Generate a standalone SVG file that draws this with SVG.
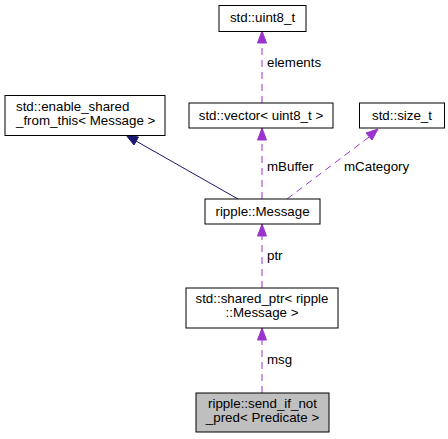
<svg xmlns="http://www.w3.org/2000/svg" width="448" height="439" viewBox="0 0 448 439">
<style>
.n{fill:#fff;stroke:#000;stroke-width:1}
.g{fill:#bfbfbf;stroke:#000;stroke-width:1}
text{font-family:"Liberation Sans",Arial,sans-serif;font-size:13.33px;fill:#000}
.c{text-anchor:middle}
.d{fill:none;stroke:#9a32cd;stroke-width:1;stroke-dasharray:7,5}
.s{fill:none;stroke:#191970;stroke-width:1}
.ap{fill:#9a32cd;stroke:#9a32cd}
.an{fill:#191970;stroke:#191970}
</style>
<rect width="448" height="439" fill="#fff"/>
<g id="connectors">
<path class="d" d="M262,103V42"/>
<polygon class="ap" points="257.5,43 262,31 266.5,43"/>
<text x="267" y="67">elements</text>
<path class="s" d="M238,199L136,141"/>
<polygon class="an" points="138.5,137 126,135 134,145"/>
<path class="d" d="M262,199V139"/>
<polygon class="ap" points="257.5,140 262,128 266.5,140"/>
<text x="267" y="171">mBuffer</text>
<path class="d" d="M287,199L369,137"/>
<polygon class="ap" points="366,133 378,129 372,140"/>
<text x="344" y="171">mCategory</text>
<path class="d" d="M262,288V235"/>
<polygon class="ap" points="257.5,236 262,224 266.5,236"/>
<text x="267" y="260">ptr</text>
<path class="d" d="M262,393V339"/>
<polygon class="ap" points="257.5,340 262,328 266.5,340"/>
<text x="267" y="364">msg</text>
</g>
<g id="node-uint8"><rect class="n" x="219" y="5.5" width="87" height="26"/><text class="c" x="262.5" y="22">std::uint8_t</text></g>
<g id="node-enable"><rect class="n" x="5" y="95.5" width="160" height="40"/><text x="16" y="111">std::enable_shared</text><text x="16" y="125">_from_this&lt; Message &gt;</text></g>
<g id="node-vector"><rect class="n" x="189" y="103" width="144" height="25"/><text class="c" x="261" y="119.5">std::vector&lt; uint8_t &gt;</text></g>
<g id="node-size"><rect class="n" x="359.5" y="103" width="85" height="25"/><text class="c" x="402" y="119.5">std::size_t</text></g>
<g id="node-message"><rect class="n" x="205" y="199" width="115" height="25"/><text class="c" x="262.5" y="215.5">ripple::Message</text></g>
<g id="node-shared"><rect class="n" x="186" y="288" width="152" height="40"/><text class="c" x="262" y="303">std::shared_ptr&lt; ripple</text><text class="c" x="262" y="317">::Message &gt;</text></g>
<g id="node-send"><rect class="g" x="196" y="393" width="133" height="39"/><text class="c" x="262.5" y="408">ripple::send_if_not</text><text class="c" x="262.5" y="422">_pred&lt; Predicate &gt;</text></g>
</svg>
